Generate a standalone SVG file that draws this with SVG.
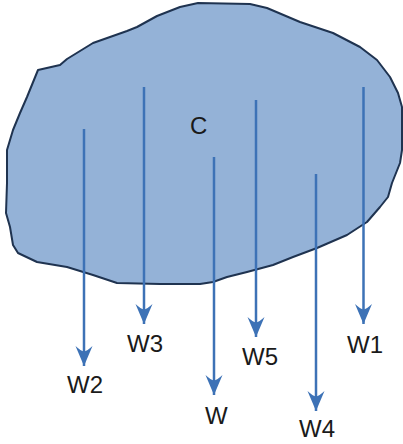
<svg xmlns="http://www.w3.org/2000/svg" width="403" height="444" viewBox="0 0 403 444">
<style>
.arr{stroke:#3d72b6;stroke-width:2.5;fill:none;marker-end:url(#ah)}
.lbl{font-family:"Liberation Sans",Arial,sans-serif;font-size:24px;fill:#1a1a1a}
</style>
<defs>
<marker id="ah" markerUnits="userSpaceOnUse" markerWidth="22" markerHeight="18" viewBox="-21 -9 22 18" refX="0" refY="0" orient="auto">
<path d="M0,0 L-20,-8.5 Q-15,-3 -14.5,0 Q-15,3 -20,8.5 Z" fill="#3d72b6"/>
</marker>
</defs>
<g id="blob">
<path d="M38,70 L60,65 L67,59 L93,43 L127,31 L137,27 L157,16 L180,7 L198,3 L250,4 L267,8 L300,22 L333,33 L360,47 L377,60 L390,77 L398,93 L402,107 L402,150 L400,163 L392,183 L388,197 L380,207 L367,222 L347,235 L317,248 L293,257 L273,265 L247,272 L227,277 L213,282 L200,284 L160,284 L117,283 L93,275 L67,267 L37,262 L18,253 L13,245 L10,227 L6,213 L7,183 L7,150 L13,130 L20,113 L27,97 Z" fill="#94b2d7" stroke="#1f3350" stroke-width="2" stroke-linejoin="round"/>
</g>
<g id="C"><text class="lbl" x="190" y="134">C</text></g>
<g id="connectors">
<line class="arr" x1="84" y1="129" x2="84" y2="366"/>
<line class="arr" x1="144" y1="87" x2="144" y2="324"/>
<line class="arr" x1="214" y1="157" x2="214" y2="395"/>
<line class="arr" x1="256" y1="100" x2="256" y2="337"/>
<line class="arr" x1="316" y1="174" x2="316" y2="411"/>
<line class="arr" x1="363.5" y1="87" x2="363.5" y2="324"/>
</g>
<g id="W2"><text class="lbl" x="67" y="393">W2</text></g>
<g id="W3"><text class="lbl" x="127" y="352">W3</text></g>
<g id="W"><text class="lbl" x="205" y="424">W</text></g>
<g id="W5"><text class="lbl" x="242" y="365">W5</text></g>
<g id="W4"><text class="lbl" x="299" y="437">W4</text></g>
<g id="W1"><text class="lbl" x="347" y="353">W1</text></g>
</svg>
